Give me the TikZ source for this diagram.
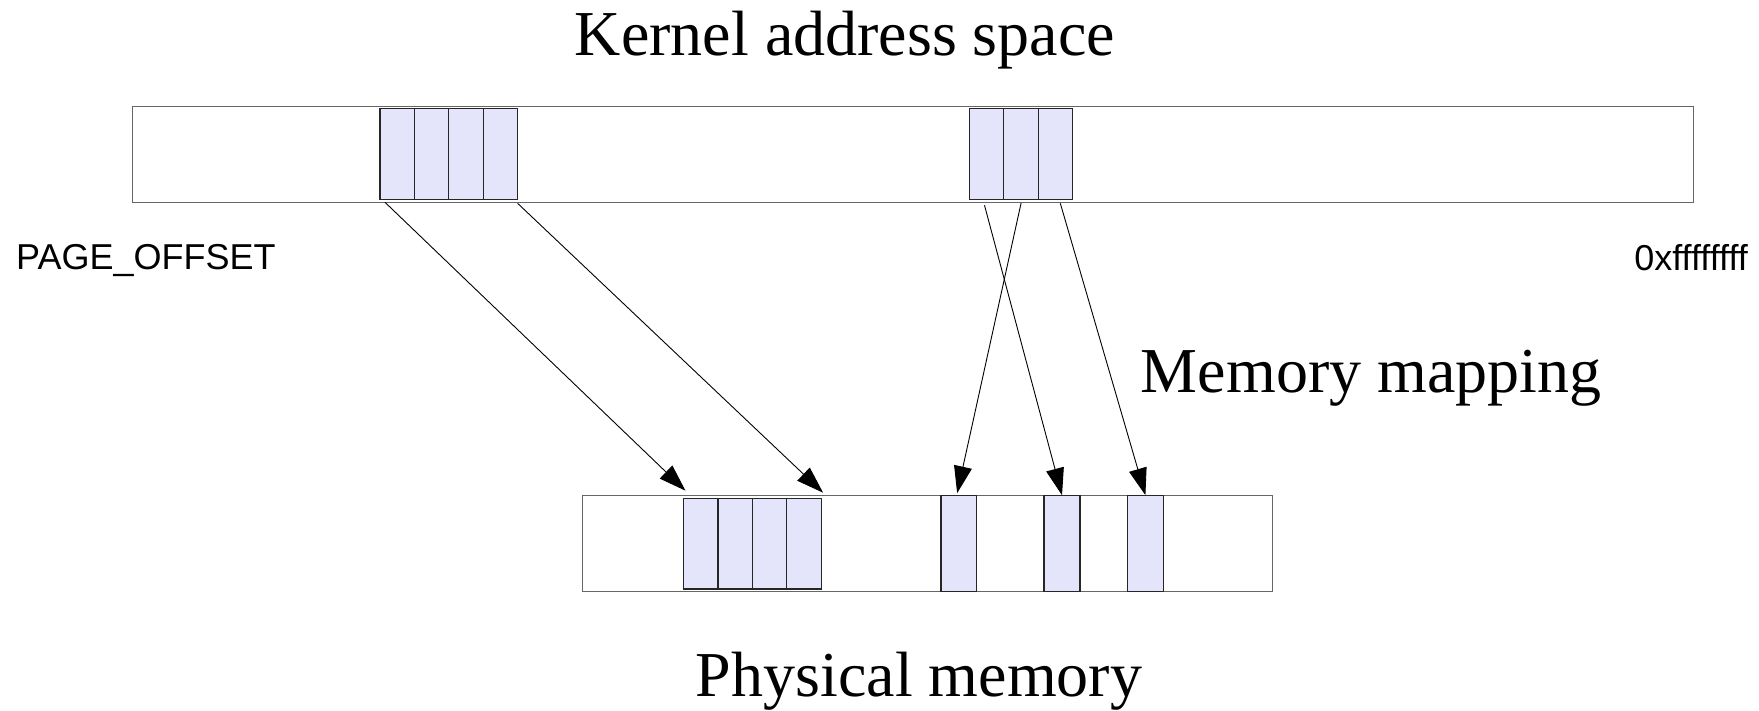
\documentclass[tikz,border=0pt]{standalone}
\usepackage{fontspec}
\setmainfont{Liberation Serif}
\newfontfamily\labelsans{Liberation Sans}
\usetikzlibrary{arrows.meta,calc}
\definecolor{pagefill}{HTML}{E4E4FA}
\definecolor{barline}{HTML}{666666}
\begin{document}
\begin{tikzpicture}[x=1pt,y=-1pt,
  bar/.style={draw=barline, line width=1.3pt, fill=white, inner sep=0pt, outer sep=0pt, anchor=north west},
  page/.style={draw=black!85, line width=1.2pt, fill=pagefill, inner sep=0pt, outer sep=0pt, anchor=north west},
  toppage/.style={page, minimum width=34.4pt, minimum height=90.6pt},
  lowpage/.style={page, minimum width=34.4pt, minimum height=90.7pt},
  onepage/.style={page, minimum height=96pt},
  map/.style={draw=black, line width=0.9pt, -{Triangle[length=27pt,width=18pt]}},
  title/.style={inner sep=0pt, font=\fontsize{64}{70}\selectfont},
  addr/.style={inner sep=0pt, font=\labelsans\fontsize{36}{40}\selectfont}]
\useasboundingbox (0,0) rectangle (1759,710);

% kernel virtual address range
\node[bar, minimum width=1560.6pt, minimum height=95.6pt] (kas) at (132.7,106.7) {};
\node[toppage] (k1) at (380.0,108.7) {};
\node[toppage] (k2) at (414.4,108.7) {};
\node[toppage] (k3) at (448.8,108.7) {};
\node[toppage] (k4) at (483.2,108.7) {};
\node[toppage] (k5) at (969.3,108.7) {};
\node[toppage] (k6) at (1003.7,108.7) {};
\node[toppage] (k7) at (1038.1,108.7) {};

% physical frames
\node[bar, minimum width=690.5pt, minimum height=96pt] (pm) at (582.2,495.7) {};
\node[lowpage] (p1) at (683.5,498.3) {};
\node[lowpage] (p2) at (717.9,498.3) {};
\node[lowpage] (p3) at (752.3,498.3) {};
\node[lowpage] (p4) at (786.7,498.3) {};
\node[onepage, minimum width=35.3pt] (s1) at (941.0,495.7) {};
\node[onepage, minimum width=36pt] (s2) at (1044.0,495.7) {};
\node[onepage, minimum width=36.2pt] (s3) at (1127.3,495.7) {};

% labels
\node[title, anchor=base] (kt) at (845,55) {Kernel address space};
\node[title, anchor=base west] (mm) at (1140.7,392) {Memory mapping};
\node[title, anchor=base] (ph) at (919,696) {Physical memory};
\node[addr, anchor=base west] (po) at (16,269) {PAGE\_OFFSET};
\node[addr, anchor=base east] (hi) at (1748,270) {0xffffffff};

% mappings
\draw[map] ($(k1.south west)+(5,3)$) -- ($(p1.north west)+(2,-7.6)$);
\draw[map] ($(k4.south east)+(0,4)$) -- ($(p4.north east)+(2,-5.6)$);
\draw[map] ($(k6.south)+(0.2,3.7)$) -- ($(s1.north)+(-1.5,-2.5)$);
\draw[map] ($(k5.south)+(-2,6)$) -- ($(s2.north)+(0,-0.5)$);
\draw[map] ($(k7.south)+(5,4)$) -- ($(s3.north)+(0,-0.5)$);
\end{tikzpicture}
\end{document}
